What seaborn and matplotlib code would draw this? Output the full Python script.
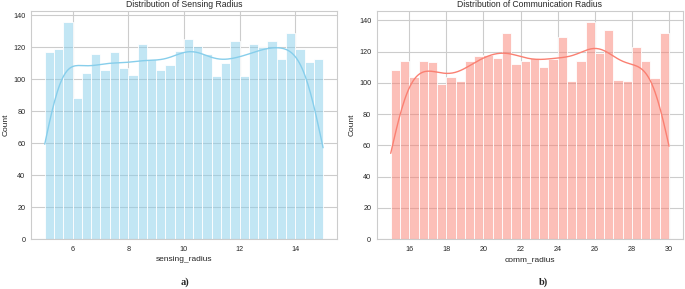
import numpy as np
import pandas as pd
import seaborn as sns
import matplotlib.pyplot as plt

# bar heights (30 bins each)
sensing_counts = [117, 119, 136, 88, 104, 116, 106, 117, 107, 103,
                  122, 113, 106, 109, 118, 125, 121, 116, 102, 110,
                  124, 102, 122, 120, 124, 113, 129, 119, 111, 113]
comm_counts = [108, 114, 104, 114, 113, 99, 104, 101, 114, 117,
               118, 116, 132, 112, 114, 116, 110, 115, 129, 101,
               114, 139, 119, 134, 102, 101, 123, 114, 103, 132]
sensing_range = (5, 15)
comm_range = (15, 30)
n_bins = 30


def to_frame(counts, lo, hi, name):
    edges = np.linspace(lo, hi, n_bins + 1)
    centers = (edges[:-1] + edges[1:]) / 2
    return pd.DataFrame({name: centers, 'w': counts})


def bw_for(counts):
    # weighted KDE sees ~n_bins points; rescale to the real sample size
    w = np.asarray(counts, float)
    neff = w.sum() ** 2 / (w ** 2).sum()
    return (w.sum() / neff) ** (-1 / 5)


sns.set_theme(style="whitegrid")
plt.rcParams['font.family'] = ['Liberation Sans', 'DejaVu Sans']
plt.rcParams.update({
    'axes.titlesize': 6.2,
    'axes.labelsize': 6,
    'xtick.labelsize': 5.2,
    'ytick.labelsize': 5.2,
    'axes.linewidth': 0.8,
    'grid.linewidth': 0.8,
    'xtick.major.size': 0,
    'ytick.major.size': 0,
    'xtick.major.pad': 5,
    'ytick.major.pad': 4,
    'axes.labelpad': 2.5,
    'axes.titlepad': 3,
})

fig, axes = plt.subplots(1, 2, figsize=(6.85, 2.89), dpi=100)
fig.subplots_adjust(left=0.045, right=0.997, bottom=0.173, top=0.962, wspace=0.13)

df_s = to_frame(sensing_counts, *sensing_range, 'sensing_radius')
sns.histplot(data=df_s, x='sensing_radius', weights='w', bins=n_bins,
             binrange=sensing_range, kde=True, color='skyblue', ax=axes[0],
             edgecolor='white', linewidth=0.6,
             kde_kws=dict(bw_adjust=bw_for(sensing_counts), cut=3, clip=sensing_range),
             line_kws=dict(linewidth=1))
axes[0].set_title('Distribution of Sensing Radius')
axes[0].set_ylabel('Count')

df_c = to_frame(comm_counts, *comm_range, 'comm_radius')
sns.histplot(data=df_c, x='comm_radius', weights='w', bins=n_bins,
             binrange=comm_range, kde=True, color='salmon', ax=axes[1],
             edgecolor='white', linewidth=0.6,
             kde_kws=dict(bw_adjust=bw_for(comm_counts), cut=3, clip=comm_range),
             line_kws=dict(linewidth=1))
axes[1].set_title('Distribution of Communication Radius')
axes[1].set_ylabel('Count')

for ax in axes:
    for s in ax.spines.values():
        s.set_color('#cccccc')

fig.text(0.27, 0.024, 'a)', ha='center', va='center', fontsize=7.5,
         fontweight='bold', family=['Liberation Serif', 'DejaVu Serif'])
fig.text(0.793, 0.024, 'b)', ha='center', va='center', fontsize=7.5,
         fontweight='bold', family=['Liberation Serif', 'DejaVu Serif'])

fig.savefig('out.png', dpi=100)
